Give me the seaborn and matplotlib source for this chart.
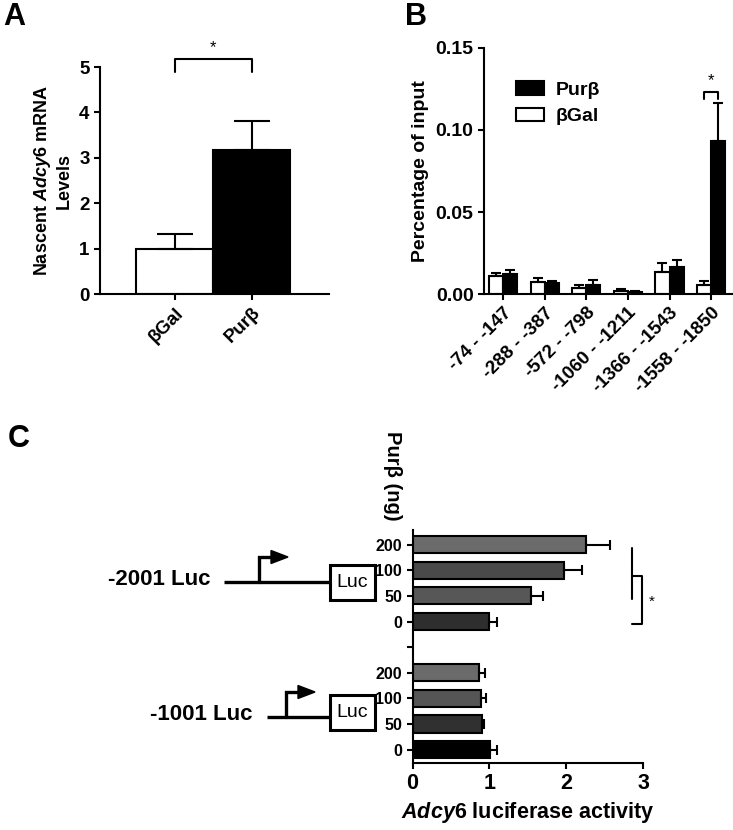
import numpy as np
import pandas as pd
import seaborn as sns
from matplotlib import pyplot as plt
from matplotlib.patches import Rectangle, Polygon

# panel A: nascent Adcy6 mRNA (mean, sem)
a_groups = ["βGal", "Purβ"]
a_mean = [1.0, 3.18]
a_sem = [0.32, 0.64]

# panel B: ChIP, percentage of input per promoter region
b_regions = ["-74 - -147", "-288 - -387", "-572 - -798",
             "-1060 - -1211", "-1366 - -1543", "-1558 - -1850"]
b_bgal = [0.0112, 0.0071, 0.0037, 0.0020, 0.0132, 0.0057]
b_bgal_sem = [0.0016, 0.0024, 0.0020, 0.0012, 0.0057, 0.0020]
b_purb = [0.0124, 0.0067, 0.0057, 0.0012, 0.0162, 0.0931]
b_purb_sem = [0.0024, 0.0014, 0.0030, 0.0008, 0.0047, 0.0231]

# panel C: luciferase activity vs Purb dose (ng)
c_doses = ["200", "100", "50", "0"]
c_2001 = [2.26, 1.97, 1.54, 1.00]
c_2001_sem = [0.31, 0.23, 0.16, 0.10]
c_1001 = [0.86, 0.895, 0.905, 1.01]
c_1001_sem = [0.09, 0.065, 0.03, 0.09]
c_2001_colors = ["#6b6b6b", "#4a4a4a", "#575757", "#2e2e2e"]
c_1001_colors = ["#6b6b6b", "#555555", "#303030", "#000000"]

sns.set_theme(style="ticks")
plt.rcParams['font.family'] = ['Liberation Sans', 'DejaVu Sans']
plt.rcParams['font.weight'] = 'bold'
plt.rcParams['axes.labelweight'] = 'bold'
plt.rcParams['mathtext.fontset'] = 'custom'
plt.rcParams['mathtext.it'] = 'Liberation Sans:italic:bold'
plt.rcParams['mathtext.rm'] = 'Liberation Sans:bold'
plt.rcParams['axes.linewidth'] = 1.5
plt.rcParams['axes.edgecolor'] = 'black'
plt.rcParams['axes.labelcolor'] = 'black'
plt.rcParams['text.color'] = 'black'
plt.rcParams['xtick.major.width'] = 1.5
plt.rcParams['ytick.major.width'] = 1.5
plt.rcParams['xtick.major.size'] = 4
plt.rcParams['ytick.major.size'] = 4
plt.rcParams['xtick.color'] = 'black'
plt.rcParams['ytick.color'] = 'black'

W, H = 733, 830
fig = plt.figure(figsize=(W / 100, H / 100), dpi=100)


def rect(x0, y0, x1, y1):
    # pixel box (top-left origin) -> figure fraction
    return [x0 / W, 1 - y1 / H, (x1 - x0) / W, (y1 - y0) / H]


# ---------------- A ----------------
ax_a = fig.add_axes(rect(100, 67, 329, 294))
df_a = pd.DataFrame({"group": a_groups, "level": a_mean})
sns.barplot(data=df_a, x="group", y="level", hue="group",
            palette=["white", "black"], width=1.0, edgecolor="black",
            linewidth=1.5, errorbar=None, legend=False, ax=ax_a)
ax_a.errorbar(range(2), a_mean, yerr=[np.zeros(2), a_sem], fmt="none",
              ecolor="black", elinewidth=1.5, capsize=13, capthick=1.5)
ax_a.set_xlim(-0.97, 2.0)
ax_a.set_ylim(0, 5)
ax_a.set_yticks(range(6))
ax_a.tick_params(labelsize=13.5)
plt.setp(ax_a.get_xticklabels(), rotation=45, ha="right", rotation_mode="anchor")
ax_a.set_xlabel("")
ax_a.set_ylabel("Nascent $\\mathit{Adcy6}$ mRNA\nLevels", fontsize=13, labelpad=5)
ax_a.plot([0, 0, 1, 1], [4.9, 5.17, 5.17, 4.9], color="black", lw=1.5, clip_on=False)
ax_a.text(0.5, 5.27, "*", ha="center", va="bottom", fontsize=12, fontweight="normal")
sns.despine(ax=ax_a)

# ---------------- B ----------------
ax_b = fig.add_axes(rect(484, 48, 732, 294))
df_b = pd.DataFrame({"region": b_regions * 2,
                     "construct": ["βGal"] * 6 + ["Purβ"] * 6,
                     "pct": b_bgal + b_purb})
sns.barplot(data=df_b, x="region", y="pct", hue="construct",
            hue_order=["βGal", "Purβ"], palette={"βGal": "white", "Purβ": "black"},
            width=0.68, edgecolor="black", linewidth=1.5, errorbar=None, ax=ax_b)
xs = np.arange(len(b_regions))
ax_b.errorbar(xs - 0.17, b_bgal, yerr=[np.zeros(6), b_bgal_sem], fmt="none",
              ecolor="black", elinewidth=1.5, capsize=3.5, capthick=1.5)
ax_b.errorbar(xs + 0.17, b_purb, yerr=[np.zeros(6), b_purb_sem], fmt="none",
              ecolor="black", elinewidth=1.5, capsize=3.5, capthick=1.5)
ax_b.set_xlim(-0.457, 5.5)
ax_b.set_ylim(0, 0.15)
ax_b.set_yticks([0, 0.05, 0.10, 0.15])
ax_b.set_yticklabels(["0.00", "0.05", "0.10", "0.15"])
ax_b.tick_params(axis="y", labelsize=14)
ax_b.tick_params(axis="x", labelsize=13.5)
plt.setp(ax_b.get_xticklabels(), rotation=45, ha="right", rotation_mode="anchor")
ax_b.set_xlabel("")
ax_b.set_ylabel("Percentage of input", fontsize=14, labelpad=5)
h, l = ax_b.get_legend_handles_labels()
ax_b.legend([h[1], h[0]], [l[1], l[0]], loc="upper left", bbox_to_anchor=(0.06, 0.935),
            frameon=False, fontsize=14, handlelength=1.4, handleheight=0.7,
            labelspacing=0.45, handletextpad=0.6)
ax_b.plot([5 - 0.17, 5 - 0.17, 5 + 0.17, 5 + 0.17], [0.119, 0.1234, 0.1234, 0.119],
          color="black", lw=1.5, clip_on=False)
ax_b.text(5, 0.1255, "*", ha="center", va="bottom", fontsize=12, fontweight="normal")
sns.despine(ax=ax_b)

# ---------------- C ----------------
ax_c = fig.add_axes(rect(412.5, 530, 643, 762.6))
rows_top = ["-2001|" + d for d in c_doses]
rows_bot = ["-1001|" + d for d in c_doses]
order = rows_top + ["gap"] + rows_bot
df_c = pd.DataFrame({"row": rows_top + rows_bot, "activity": c_2001 + c_1001})
pal = dict(zip(rows_top + rows_bot, c_2001_colors + c_1001_colors))
sns.barplot(data=df_c, x="activity", y="row", order=order, hue="row", palette=pal,
            orient="h", width=0.67, edgecolor="black", linewidth=1.5,
            errorbar=None, legend=False, ax=ax_c)
ys_top = [order.index(r) for r in rows_top]
ys_bot = [order.index(r) for r in rows_bot]
ax_c.errorbar(c_2001, ys_top, xerr=[np.zeros(4), c_2001_sem], fmt="none",
              ecolor="black", elinewidth=1.5, capsize=3.5, capthick=1.5)
ax_c.errorbar(c_1001, ys_bot, xerr=[np.zeros(4), c_1001_sem], fmt="none",
              ecolor="black", elinewidth=1.5, capsize=3.5, capthick=1.5)
ax_c.set_xlim(0, 3)
ax_c.set_ylim(8.51, -0.574)
ax_c.set_xticks(range(4))
ax_c.tick_params(axis="x", labelsize=15.5)
ax_c.set_yticks(range(9))
ax_c.set_yticklabels(c_doses + [""] + c_doses, fontsize=11.5)
ax_c.set_ylabel("")
ax_c.set_xlabel("$\\mathit{Adcy6}$ luciferase activity", fontsize=15.5, labelpad=4)
ax_c.plot([2.86, 2.86], [0.13, 2.12], color="black", lw=1.5, clip_on=False)
ax_c.plot([2.86, 2.99, 2.99, 2.86], [1.21, 1.21, 3.09, 3.09], color="black", lw=1.5,
          clip_on=False)
ax_c.text(3.11, 2.24, "*", ha="center", va="center", fontsize=11, fontweight="normal")
sns.despine(ax=ax_c)

fig.text(392 / W, 1 - 476 / H, "Purβ (ng)", rotation=270, ha="center", va="center",
         fontsize=14.5)

# construct diagrams (pixel space overlay)
ax_d = fig.add_axes([0, 0, 1, 1], zorder=-1)
ax_d.set_xlim(0, W)
ax_d.set_ylim(H, 0)
ax_d.axis("off")


def construct(label, label_right, y_line, x_line0, x_arrow, box_y0, box_y1):
    ax_d.text(label_right, y_line - 3, label, ha="right", va="center", fontsize=16)
    ax_d.plot([x_line0, 330], [y_line, y_line], color="black", lw=2.4,
              solid_capstyle="butt")
    y_top = y_line - 25
    ax_d.plot([x_arrow, x_arrow, x_arrow + 13], [y_line, y_top, y_top], color="black",
              lw=2.4, solid_joinstyle="miter")
    ax_d.add_patch(Polygon([[x_arrow + 12, y_top - 6.5], [x_arrow + 29, y_top],
                            [x_arrow + 12, y_top + 6.5]], closed=True,
                           facecolor="black", edgecolor="black"))
    ax_d.add_patch(Rectangle((330, box_y0), 45, box_y1 - box_y0, facecolor="white",
                             edgecolor="black", lw=2.2))
    ax_d.text(352.5, (box_y0 + box_y1) / 2, "Luc", ha="center", va="center",
              fontsize=14, fontweight="normal")


construct("-2001 Luc", 211, 582, 224, 259, 565, 600)
construct("-1001 Luc", 252, 717, 267, 286, 695, 730)

for letter, x, y in [("A", 3, 25), ("B", 405, 25), ("C", 8, 447)]:
    fig.text(x / W, 1 - y / H, letter, fontsize=22, va="baseline", ha="left")

fig.savefig("out.png", dpi=100)
